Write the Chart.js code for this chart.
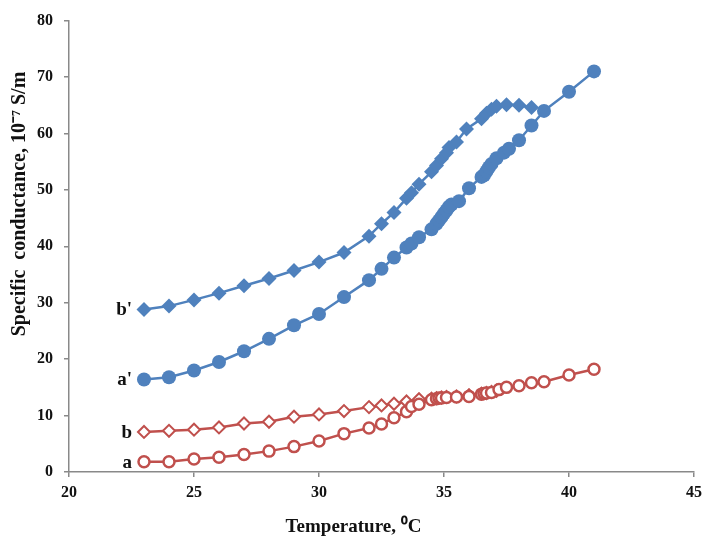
<!DOCTYPE html>
<html>
<head>
    <title>Specific conductance vs temperature</title>
    <style>
        body { margin: 0; padding: 0; background: #fff; }
        #chartBox { width: 708px; height: 542px; }
    </style>
    <script src="https://cdn.jsdelivr.net/npm/chart.js"></script>
</head>
<body>
    <div id="chartBox">
        <canvas id="condChart"></canvas>
    </div>

    <script>
        // a' : filled circles (blue)
        const tempA2 = [23, 24, 25, 26, 27, 28, 29, 30, 31, 32, 32.5, 33, 33.5, 33.7, 34, 34.5, 34.7, 34.8, 34.9, 35, 35.1, 35.2, 35.3, 35.6, 36, 36.5, 36.6, 36.7, 36.8, 36.9, 37.1, 37.4, 37.6, 38, 38.5, 39, 40, 41];
        const condA2 = [16.4, 16.8, 18, 19.5, 21.4, 23.6, 26, 28, 31, 34, 36, 38, 39.8, 40.5, 41.6, 43, 44, 44.6, 45.2, 45.8, 46.4, 47, 47.4, 48, 50.3, 52.3, 52.6, 53.3, 54, 54.6, 55.6, 56.6, 57.3, 58.8, 61.4, 64, 67.4, 71];

        // b' : filled diamonds (blue)
        const tempB2 = [23, 24, 25, 26, 27, 28, 29, 30, 31, 32, 32.5, 33, 33.5, 33.7, 34, 34.5, 34.7, 34.9, 35.1, 35.2, 35.5, 35.9, 36.5, 36.7, 36.9, 37.1, 37.5, 38, 38.5];
        const condB2 = [28.8, 29.4, 30.5, 31.7, 33, 34.3, 35.7, 37.2, 38.9, 41.8, 44, 46, 48.5, 49.5, 51, 53.2, 54.3, 55.5, 56.6, 57.5, 58.5, 60.8, 62.6, 63.6, 64.3, 64.8, 65.1, 65, 64.6];

        // b : open diamonds (red)
        const tempB = [23, 24, 25, 26, 27, 28, 29, 30, 31, 32, 32.5, 33, 33.5, 34, 34.5, 34.7, 34.9, 35.1, 35.5, 36, 36.5, 36.7, 36.9, 37.1];
        const condB = [7.1, 7.3, 7.5, 7.9, 8.6, 8.9, 9.8, 10.2, 10.8, 11.5, 11.8, 12.1, 12.5, 12.9, 13, 13.1, 13.2, 13.3, 13.4, 13.6, 13.9, 14, 14.2, 14.4];

        // a : open circles (red)
        const tempA = [23, 24, 25, 26, 27, 28, 29, 30, 31, 32, 32.5, 33, 33.5, 33.7, 34, 34.5, 34.7, 34.8, 34.9, 35.1, 35.5, 36, 36.5, 36.6, 36.7, 36.9, 37.2, 37.5, 38, 38.5, 39, 40, 41];
        const condA = [1.8, 1.8, 2.3, 2.6, 3.1, 3.7, 4.5, 5.5, 6.8, 7.8, 8.5, 9.6, 10.7, 11.6, 12, 12.8, 13, 13.1, 13.1, 13.2, 13.3, 13.4, 13.8, 13.9, 14, 14.1, 14.6, 15, 15.3, 15.8, 16, 17.2, 18.2];

        const xTicks = [20, 25, 30, 35, 40, 45];
        const yTicks = [0, 10, 20, 30, 40, 50, 60, 70, 80];

        const blue = '#4f81bd';
        const red = '#c0504d';
        const axisGrey = '#898989';
        const serif = '"Liberation Serif", "Times New Roman", serif';

        const toPoints = (xs, ys) => xs.map((x, i) => ({ x: x, y: ys[i] }));

        // series labels next to the first point, plus the axis titles
        const seriesLabels = {
            id: 'seriesLabels',
            afterDraw(chart) {
                const ctx = chart.ctx;
                const area = chart.chartArea;
                ctx.save();
                ctx.fillStyle = '#111';
                ctx.font = 'bold 19px ' + serif;
                ctx.textAlign = 'right';
                ctx.textBaseline = 'middle';
                chart.data.datasets.forEach((ds, i) => {
                    const pt = chart.getDatasetMeta(i).data[0];
                    ctx.fillText(ds.label, pt.x - 12, pt.y + 1);
                });

                ctx.font = 'bold 19px ' + serif;
                ctx.textAlign = 'center';
                ctx.fillText('Temperature, \u2070C', (area.left + area.right) / 2 - 28, 527);

                ctx.translate(20, 204);
                ctx.rotate(-Math.PI / 2);
                ctx.font = 'bold 20px ' + serif;
                ctx.fillText('Specific  conductance, 10\u207B\u2077 S/m', 0, 0);
                ctx.restore();
            }
        };

        const ctx = document.getElementById('condChart').getContext('2d');
        new Chart(ctx, {
            type: 'scatter',
            data: {
                datasets: [
                    {
                        label: "a'",
                        data: toPoints(tempA2, condA2),
                        showLine: true,
                        borderColor: blue,
                        backgroundColor: blue,
                        borderWidth: 2.5,
                        pointStyle: 'circle',
                        pointRadius: 7,
                        pointBorderWidth: 0
                    },
                    {
                        label: "b'",
                        data: toPoints(tempB2, condB2),
                        showLine: true,
                        borderColor: blue,
                        backgroundColor: blue,
                        borderWidth: 2.5,
                        pointStyle: 'rectRot',
                        pointRadius: 7.5,
                        pointBorderWidth: 0
                    },
                    {
                        label: 'a',
                        data: toPoints(tempA, condA),
                        showLine: true,
                        borderColor: red,
                        backgroundColor: '#ffffff',
                        borderWidth: 2.5,
                        pointStyle: 'circle',
                        pointRadius: 5.5,
                        pointBorderWidth: 2.5
                    },
                    {
                        label: 'b',
                        data: toPoints(tempB, condB),
                        showLine: true,
                        borderColor: red,
                        backgroundColor: '#ffffff',
                        borderWidth: 2.5,
                        pointStyle: 'rectRot',
                        pointRadius: 6,
                        pointBorderWidth: 2
                    }
                ]
            },
            options: {
                responsive: true,
                maintainAspectRatio: false,
                animation: false,
                layout: {
                    padding: { top: 13, right: 10, left: 0, bottom: 0 }
                },
                plugins: {
                    legend: { display: false },
                    tooltip: { enabled: false }
                },
                scales: {
                    x: {
                        type: 'linear',
                        min: 20,
                        max: 45,
                        afterBuildTicks: axis => { axis.ticks = xTicks.map(v => ({ value: v })); },
                        afterFit: axis => { axis.height = 70; },
                        grid: { drawOnChartArea: false, drawTicks: true, tickLength: 5, color: axisGrey, lineWidth: 1.5 },
                        border: { color: axisGrey, width: 1.5 },
                        ticks: {
                            color: '#111',
                            padding: 6,
                            maxRotation: 0,
                            font: { family: serif, size: 16, weight: 'bold' }
                        }
                    },
                    y: {
                        min: 0,
                        max: 80,
                        afterBuildTicks: axis => { axis.ticks = yTicks.map(v => ({ value: v })); },
                        afterFit: axis => { axis.width = 69; },
                        grid: { drawOnChartArea: false, drawTicks: true, tickLength: 5, color: axisGrey, lineWidth: 1.5 },
                        border: { color: axisGrey, width: 1.5 },
                        ticks: {
                            color: '#111',
                            padding: 11,
                            font: { family: serif, size: 16, weight: 'bold' }
                        }
                    }
                }
            },
            plugins: [seriesLabels]
        });
    </script>
</body>
</html>
